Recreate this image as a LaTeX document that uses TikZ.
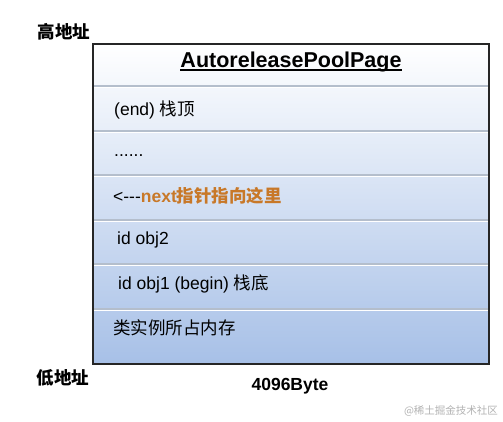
\documentclass[tikz,border=0pt]{standalone}
\usepackage{fontspec}
\setmainfont{Liberation Sans}
\newfontfamily\cjk{Noto Sans CJK SC}
\definecolor{poolblue}{RGB}{167,192,231}
\definecolor{nextorange}{RGB}{200,120,40}
\definecolor{sepgray}{RGB}{180,190,204}
\tikzset{
  rowtext/.style={anchor=west, inner sep=0pt, font=\fontsize{17.5}{20}\selectfont},
  addr/.style={inner sep=0pt, font=\fontsize{17.5}{20}\selectfont\bfseries\cjk},
}
\begin{document}
\begin{tikzpicture}[x=1pt,y=-1pt]
        \useasboundingbox (0,0) rectangle (503,422);

        % page body with gradient
        \shade[top color=white, bottom color=poolblue] (93,44) rectangle (489,364);

        % row separators
        \foreach \y in {86,131,175,220,264,309} {
            \draw[sepgray, line width=1.2pt] (93,\y) -- (489,\y);
            \draw[white, line width=0.8pt] (93,\y+1.4) -- (489,\y+1.4);
        }
        \draw[black!85, line width=1.5pt] (93,44) rectangle (489,364);

        \node[inner xsep=0pt, font=\fontsize{21.5}{24}\selectfont\bfseries] (title) at (291,62) {AutoreleasePoolPage};
        \draw[line width=1.1pt] ([yshift=-2.5pt]title.base west) -- ([yshift=-2.5pt]title.base east);

        \node[rowtext] (top) at (114,110) {(end) {\cjk 栈顶}};
        \node[rowtext] (dots) at (114,156) {......};
        \node[rowtext] (next) at (113,196) {<{-}{-}{-}{\color{nextorange}\bfseries next\cjk 指针指向这里}};
        \node[rowtext] (obj2) at (117,240) {id obj2};
        \node[rowtext] (obj1) at (118,284) {id obj1 (begin) {\cjk 栈底}};
        \node[rowtext] (inst) at (113,328) {\cjk 类实例所占内存};

        \node[addr] (high) at (64,32) {高地址};
        \node[addr] (low) at (63,378) {低地址};
        \node[inner sep=0pt, font=\fontsize{17.5}{20}\selectfont\bfseries] (size) at (290,386) {4096Byte};

        \node[inner sep=0pt, text=black!30, font=\fontsize{10.5}{12}\selectfont\cjk] (mark) at (451,411) {@稀土掘金技术社区};
    \end{tikzpicture}
\end{document}
